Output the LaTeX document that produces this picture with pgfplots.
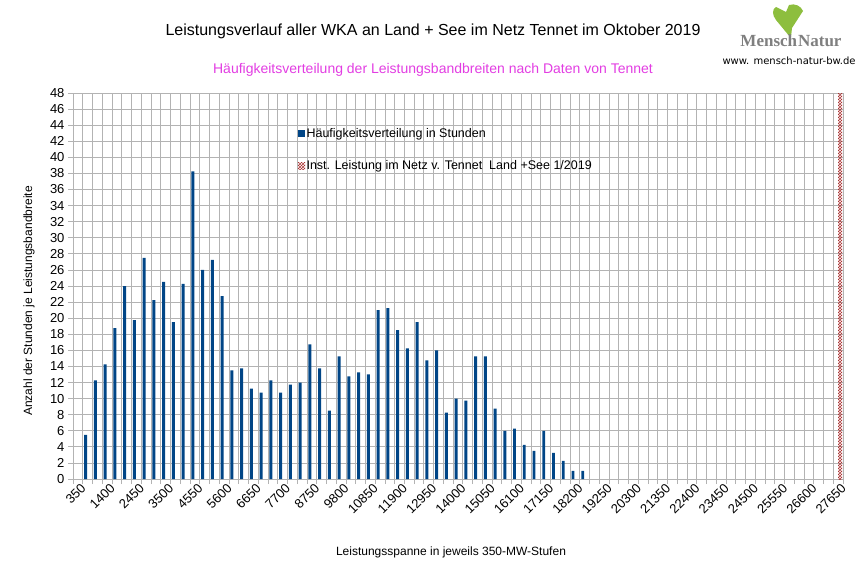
\documentclass[border=0pt]{standalone}
\usepackage{pgfplots}
\pgfplotsset{compat=1.18}
\usepackage{fontspec}
\setmainfont{Liberation Sans}
\newfontfamily\seriffont{Liberation Serif}
\newfontfamily\dejavu{DejaVu Sans}
\usetikzlibrary{patterns}
\definecolor{barblue}{HTML}{004586}
\definecolor{hatchred}{RGB}{170,50,50}
\definecolor{subtitlemag}{HTML}{E23DE2}
\definecolor{gridgray}{HTML}{B3B3B3}
\definecolor{leafgreen}{HTML}{8DBE3E}
\definecolor{logogray}{HTML}{7F7F7F}
\begin{document}
\begin{tikzpicture}
\useasboundingbox (0,0) rectangle (866pt,-578pt);
\node[font=\fontsize{16}{19}\selectfont] at (433pt,-31pt) {Leistungsverlauf aller WKA an Land + See im Netz Tennet im Oktober 2019};
\node[font=\fontsize{14}{17}\selectfont, text=subtitlemag] at (433pt,-70pt) {Häufigkeitsverteilung der Leistungsbandbreiten nach Daten von Tennet};
% logo
\fill[leafgreen] (790pt,-37pt) -- (776pt,-20pt) .. controls (772pt,-15pt) and (772pt,-9pt) .. (776pt,-7pt) -- (786pt,-12pt) -- (789pt,-5pt) .. controls (795pt,-3pt) and (801pt,-6pt) .. (803pt,-11pt) -- (792pt,-28pt) -- (791pt,-37pt) -- cycle;
\node[font=\seriffont\bfseries\fontsize{17}{20}\selectfont, text=logogray] at (791pt,-41pt) {Mensch\hspace{1pt}Natur};
\node[font=\dejavu\fontsize{10}{12}\selectfont] at (789pt,-61pt) {www. mensch-natur-bw.de};
% axis titles
\node[font=\fontsize{12}{14}\selectfont] at (451pt,-552pt) {Leistungsspanne in jeweils 350-MW-Stufen};
\node[font=\fontsize{12}{14}\selectfont, rotate=90] at (29pt,-301pt) {Anzahl der Stunden je Leistungsbandbreite};
\begin{axis}[
  at={(73pt,-479pt)}, anchor=south west,
  scale only axis, width=770pt, height=386pt,
  xmin=-0.5, xmax=78.5, ymin=0, ymax=48,
  axis lines=left, axis line style={-, draw=gridgray},
  ytick={0,2,...,48},
  minor ytick={0,2,...,48},
  xtick={0,3,...,78},
  xticklabels={350,1400,2450,3500,4550,5600,6650,7700,8750,9800,10850,11900,12950,14000,15050,16100,17150,18200,19250,20300,21350,22400,23450,24500,25550,26600,27650},
  minor xtick={-0.5,0.5,...,78.5},
  xticklabel style={rotate=45, anchor=north east, inner sep=1pt},
  xminorgrids, yminorgrids,
  minor grid style={gridgray, line width=0.8pt},
  tick style={gridgray, line width=0.8pt},
  tick align=outside, major tick length=0pt, minor tick length=5pt,
  ticklabel style={font=\fontsize{13}{15}\selectfont},
  yticklabel style={xshift=-5pt},
  xticklabel style={yshift=-3pt},
  /pgf/number format/assume math mode=true,
  legend style={at={(0.292,0.912)}, anchor=north west, draw=none, fill=none,
    font=\fontsize{12.5}{15}\selectfont, row sep=18pt, inner sep=0pt,
    nodes={inner sep=1.5pt}},
  legend cell align=left,
]
\addplot[ybar, bar width=0.3, bar shift=-0.2, fill=barblue, draw=none,
  legend image code/.code={\fill[barblue] (0pt,-3.5pt) rectangle (7pt,3.5pt);}]
  coordinates {
  (1,5.5) (2,12.25) (3,14.25) (4,18.75) (5,24) (6,19.75) (7,27.5) (8,22.25)
  (9,24.5) (10,19.5) (11,24.25) (12,38.25) (13,26) (14,27.25) (15,22.75)
  (16,13.5) (17,13.75) (18,11.25) (19,10.75) (20,12.25) (21,10.75) (22,11.75)
  (23,12) (24,16.75) (25,13.75) (26,8.5) (27,15.25) (28,12.75) (29,13.25)
  (30,13) (31,21) (32,21.25) (33,18.5) (34,16.25) (35,19.5) (36,14.75)
  (37,16) (38,8.25) (39,10) (40,9.75) (41,15.25) (42,15.25) (43,8.75)
  (44,6) (45,6.25) (46,4.25) (47,3.5) (48,6) (49,3.25) (50,2.25) (51,1) (52,1)
  };
\addlegendentry{Häufigkeitsverteilung in Stunden}
\addplot[ybar, bar width=0.4, bar shift=0.2, pattern=crosshatch, pattern color=hatchred, draw=none,
  legend image code/.code={\fill[pattern=crosshatch, pattern color=hatchred] (0pt,-3.5pt) rectangle (7pt,3.5pt);}]
  coordinates {(78,48)};
\addlegendentry{Inst. Leistung im Netz v. Tennet\ \ Land +See 1/2019}
\end{axis}
\end{tikzpicture}
\end{document}
